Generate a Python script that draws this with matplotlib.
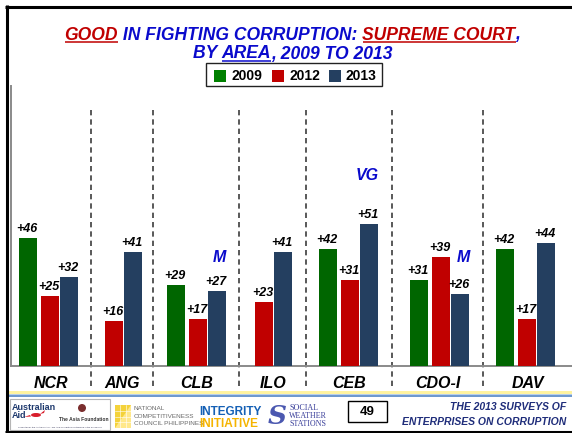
import matplotlib
matplotlib.use('Agg')
import matplotlib.pyplot as plt
from matplotlib.patches import Rectangle, Circle, Ellipse, Polygon

# ---------------- data ----------------
areas = ['NCR', 'ANG', 'CLB', 'ILO', 'CEB', 'CDO-I', 'DAV']
years = ['2009', '2012', '2013']
v2009 = [46, None, 29, None, 42, 31, 42]
v2012 = [25, 16, 17, 23, 31, 39, 17]
v2013 = [32, 41, 27, 41, 51, 26, 44]
ratings = [None, None, 'M', None, 'VG', 'M', None]

# ---------------- layout ----------------
W, H = 572, 433
anchor_x = [50, 114, 198, 264, 350, 441, 527]          # red-bar centres (px)
series_offset = [-22, 0, 19]
bar_w = 18
separators = [91, 153, 239, 306, 391.5, 482.5]
rating_pos = [None, None, (219, 39), None, (367, 68.5), (463, 39), None]
bar_colors = ['#006600', '#C00000', '#243F60']
legend_colors = ['#008000', '#C00000', '#243F60']
BLUE = '#0A0ACC'
RED = '#C00000'
FONT = 'Liberation Sans'

fig = plt.figure(figsize=(W / 100, H / 100), dpi=100)
ov = fig.add_axes([0, 0, 1, 1])
ov.set_xlim(0, W)
ov.set_ylim(H, 0)
ov.axis('off')
renderer = fig.canvas.get_renderer()

# frame
ov.plot([5, W], [6.5, 6.5], color='black', lw=2.2, solid_capstyle='butt')
ov.plot([6.5, 6.5], [5, H], color='black', lw=2.2, solid_capstyle='butt')
ov.plot([5, W], [431.5, 431.5], color='black', lw=2.2, solid_capstyle='butt')

# ---------------- chart axes ----------------
left_px, top_px, base_px = 10.5, 86, 366
ax = fig.add_axes([left_px / W, (H - base_px) / H, (W - left_px) / W, (base_px - top_px) / H])
ax.patch.set_alpha(0)
ax.set_xlim(left_px, W)
ax.set_ylim(0, 100.5)
for s in ['top', 'right']:
    ax.spines[s].set_visible(False)
for s in ['left', 'bottom']:
    ax.spines[s].set_color('#8a8a8a')
    ax.spines[s].set_linewidth(1.4)
ax.set_xticks([])
ax.set_yticks([])

series = [v2009, v2012, v2013]
for si, vals in enumerate(series):
    xs = [anchor_x[i] + series_offset[si] for i, v in enumerate(vals) if v is not None]
    ys = [v for v in vals if v is not None]
    ax.bar(xs, ys, width=bar_w, color=bar_colors[si], label=years[si], zorder=3)
    for x, v in zip(xs, ys):
        ax.annotate(f'+{v}', (x, v), xytext=(-0.8, 4.3), textcoords='offset points',
                    ha='center', va='baseline', fontsize=9, fontweight='bold',
                    fontstyle='italic', family=FONT, color='black')

for r, pos in zip(ratings, rating_pos):
    if r:
        ax.text(pos[0], pos[1], r, ha='center', va='center', fontsize=11.5,
                fontweight='bold', fontstyle='italic', family=FONT, color=BLUE)

# separators
for x in separators:
    ov.plot([x, x], [110, 388], color='#3c3c3c', lw=1.2, linestyle=(0, (3.2, 2.4)))

# category labels
bounds = [left_px] + separators + [W]
for i, a in enumerate(areas):
    cx = (bounds[i] + bounds[i + 1]) / 2 + 0.5
    ov.text(cx, 387.5, a, ha='center', va='baseline', fontsize=11.5, fontweight='bold',
            fontstyle='italic', family=FONT, color='black')

# ---------------- title ----------------
def text_w(s, size, family=FONT, weight='bold', style='italic'):
    t = ov.text(0, 0, '|' + s + '|', fontsize=size, fontweight=weight, fontstyle=style, family=family)
    t2 = ov.text(0, 0, '||', fontsize=size, fontweight=weight, fontstyle=style, family=family)
    w = t.get_window_extent(renderer).width - t2.get_window_extent(renderer).width
    t.remove(); t2.remove()
    return w

line1 = [('GOOD', RED, True), (' IN FIGHTING CORRUPTION: ', BLUE, False),
         ('SUPREME COURT', RED, True), (',', BLUE, False)]
line2 = [('BY ', BLUE, False), ('AREA', BLUE, True), (', 2009 TO 2013', BLUE, False)]

ref = 12.0
w1 = sum(text_w(s, ref) for s, _, _ in line1)
tsize = ref * 455 / w1

def draw_line(segs, y_base, cx, size):
    ws = [text_w(s, size) for s, _, _ in segs]
    x = cx - sum(ws) / 2
    for (s, c, u), w in zip(segs, ws):
        ov.text(x, y_base, s, color=c, fontsize=size, fontweight='bold', fontstyle='italic',
                family=FONT, ha='left', va='baseline')
        if u:
            ov.plot([x + 0.5, x + w], [y_base + 2.8] * 2, color=c, lw=1.1, solid_capstyle='butt')
        x += w

draw_line(line1, 39.5, 292.5, tsize)
draw_line(line2, 58.5, 292.5, tsize)

# ---------------- legend ----------------
ov.add_patch(Rectangle((206, 63), 176, 23, facecolor='white', edgecolor='#222222', lw=1.0))
sq_x = [214, 272, 329]
for i, y in enumerate(years):
    ov.add_patch(Rectangle((sq_x[i], 69.5), 12, 12, facecolor=legend_colors[i], edgecolor='none'))
    ov.text(sq_x[i] + 17, 80.5, y, ha='left', va='baseline', fontsize=10, fontweight='bold',
            family=FONT, color='black')

# ---------------- footer ----------------
ov.add_patch(Rectangle((8, 391), W - 8, 2.5, facecolor='#FFF3A0', edgecolor='none'))
ov.add_patch(Rectangle((8, 393.5), W - 8, 1.6, facecolor='#B7CFEC', edgecolor='none'))
ov.add_patch(Rectangle((8, 395.1), W - 8, 1.9, facecolor='#6F99CF', edgecolor='none'))

# Australian Aid / Asia Foundation box
ov.add_patch(Rectangle((10, 398.5), 100, 31, facecolor='white', edgecolor='#b5b5b5', lw=0.8))
ov.text(12, 410, 'Australian', fontsize=6.5, fontweight='bold', family=FONT, color='#1F3A6E', va='baseline')
ov.text(12, 418, 'Aid', fontsize=6.5, fontweight='bold', family=FONT, color='#1F3A6E', va='baseline')
ov.add_patch(Ellipse((36, 415), 10, 4, facecolor='#D81E2C', edgecolor='none'))
ov.add_patch(Polygon([[30, 415], [24, 417], [31, 416.5]], facecolor='#D81E2C', edgecolor='none'))
ov.add_patch(Polygon([[40, 414], [45, 410], [44, 413]], facecolor='#D81E2C', edgecolor='none'))
ov.add_patch(Circle((82, 408), 4, facecolor='#7A2E2E', edgecolor='none'))
ov.text(84, 421, 'The Asia Foundation', fontsize=3.6, fontweight='bold', family=FONT,
        color='#333333', ha='center', va='baseline')
ov.text(60, 428, 'Supported by the Australian Aid - The Asia Foundation Partnership in the Philippines',
        fontsize=1.6, family=FONT, color='#333355', ha='center', va='baseline')

# NCC
ov.add_patch(Rectangle((115, 405), 16, 23, facecolor='#F4D23A', edgecolor='none'))
ov.add_patch(Polygon([[115, 428], [131, 405], [131, 428]], facecolor='#FFE88A', edgecolor='none'))
for gx in [120.3, 125.6]:
    ov.plot([gx, gx], [405, 428], color='white', lw=0.4)
for gy in [410.7, 416.5, 422.2]:
    ov.plot([115, 131], [gy, gy], color='white', lw=0.4)
for k, s in enumerate(['NATIONAL', 'COMPETITIVENESS', 'COUNCIL PHILIPPINES']):
    ov.text(134, 410 + k * 7.6, s, fontsize=4.6, family=FONT, color='#6a6a6a', va='baseline')

# Integrity Initiative
ov.text(199, 415, 'INTEGRITY', fontsize=8.5, fontweight='bold', family=FONT, color='#1560B5', va='baseline')
ov.text(199, 427, 'INITIATIVE', fontsize=8.5, fontweight='bold', family=FONT, color='#F5B400', va='baseline')

# Social Weather Stations
ov.text(277, 417, 'S', fontsize=19, fontweight='bold', fontstyle='italic', family='DejaVu Serif',
        color='#4B58B0', ha='center', va='center')
for k, s in enumerate(['SOCIAL', 'WEATHER', 'STATIONS']):
    ov.text(289, 410 + k * 8, s, fontsize=5.8, family='Liberation Serif', color='#3A3F9A', va='baseline')

# page number
ov.add_patch(Rectangle((348, 401), 39, 21, facecolor='white', edgecolor='black', lw=1.0))
ov.text(367.5, 412, '49', fontsize=9.5, fontweight='bold', family=FONT, color='black',
        ha='center', va='center')

# footer title
ov.text(566, 410, 'THE 2013 SURVEYS OF', fontsize=7.5, fontweight='bold', fontstyle='italic',
        family=FONT, color='#1F2D7A', ha='right', va='baseline')
ov.text(566, 425, 'ENTERPRISES ON CORRUPTION', fontsize=7.5, fontweight='bold', fontstyle='italic',
        family=FONT, color='#1F2D7A', ha='right', va='baseline')

fig.savefig('out.png', dpi=100)
